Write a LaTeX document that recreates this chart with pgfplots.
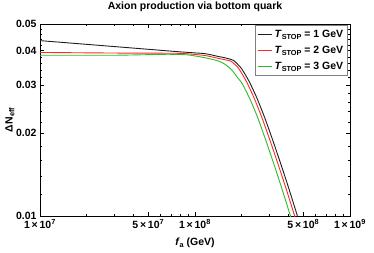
\documentclass[border=0pt]{standalone}
\usepackage{pgfplots}
\pgfplotsset{compat=1.18}
\usepackage{fontspec}
\setmainfont{Liberation Sans}
\definecolor{cblack}{RGB}{30,30,30}
\definecolor{cred}{RGB}{255,40,40}
\definecolor{cgreen}{RGB}{40,190,40}
\newcommand{\fs}{\bfseries\fontsize{10.5}{12.5}\selectfont}
\newcommand{\sub}[1]{\raisebox{-0.35ex}{\fontsize{7.3}{8}\selectfont #1}}
\begin{document}
\begin{tikzpicture}
\begin{axis}[
  scale only axis, width=310pt, height=192pt,
  xmode=log, ymode=log,
  xmin=1e7, xmax=1e9, ymin=0.01, ymax=0.05,
  font=\fs,
  axis line style={line width=0.9pt, black},
  tick align=inside, major tick length=4pt, minor tick length=2pt,
  every tick/.style={black, line width=0.5pt},
  xtick={1e7,5e7,1e8,5e8,1e9},
  xticklabels={1\,×\,10\textsuperscript{7},5\,×\,10\textsuperscript{7},1\,×\,10\textsuperscript{8},5\,×\,10\textsuperscript{8},1\,×\,10\textsuperscript{9}},
  minor xtick={2e7,3e7,4e7,6e7,7e7,8e7,9e7,2e8,3e8,4e8,6e8,7e8,8e8,9e8},
  ytick={0.01,0.02,0.03,0.04,0.05},
  yticklabels={0.01,0.02,0.03,0.04,0.05},
  minor ytick={0.012,0.014,0.016,0.018,0.022,0.024,0.026,0.028,0.032,0.034,0.036,0.038,0.042,0.044,0.046,0.048},
  title={Axion production via bottom quark},
  title style={at={(axis description cs:0.5,1.059)}, anchor=center, font=\fs},
  xlabel={\textit{f}\sub{a} (GeV)},
  xlabel style={at={(axis description cs:0.5,-0.141)}, anchor=center},
  ylabel={ΔN\sub{eff}},
  ylabel style={at={(axis description cs:-0.097,0.5)}, anchor=center},
  legend style={at={(axis description cs:0.992,0.995)}, anchor=north east, draw=gray, line width=0.6pt,
    font=\fs, row sep=3.5pt, inner xsep=2pt, inner ysep=2.5pt},
  legend cell align=left,
  legend image code/.code={\draw[#1, line width=0.9pt] (0pt,0pt) -- (14pt,0pt);},
  clip=true,
]
\addplot[cblack, line width=0.9pt, smooth, tension=0.3] coordinates {
(1e7,0.0435) (3.16e7,0.0413) (8.0e7,0.0396) (1.16e8,0.0390) (1.41e8,0.0381)
(1.585e8,0.0376) (1.778e8,0.0368) (1.995e8,0.03443) (2.239e8,0.03085) (2.512e8,0.02683)
(2.818e8,0.02278) (3.162e8,0.01899) (3.548e8,0.01568) (3.981e8,0.01287) (4.467e8,0.01046) (4.786e8,0.00921)};
\addlegendentry{\textit{T}\sub{STOP} = 1 GeV}
\addplot[cred, line width=0.9pt, smooth, tension=0.3] coordinates {
(1e7,0.0394) (3.16e7,0.0392) (8.0e7,0.0391) (1.16e8,0.0384) (1.41e8,0.0375)
(1.706e8,0.0366) (1.914e8,0.03443) (2.148e8,0.03085) (2.410e8,0.02683) (2.704e8,0.02278)
(3.034e8,0.01899) (3.404e8,0.01568) (3.819e8,0.01287) (4.286e8,0.01046) (4.592e8,0.00921)};
\addlegendentry{\textit{T}\sub{STOP} = 2 GeV}
\addplot[cgreen, line width=0.9pt, smooth, tension=0.3] coordinates {
(1e7,0.0385) (3.16e7,0.0385) (6.6e7,0.0388) (9.0e7,0.0386) (1.16e8,0.0377)
(1.41e8,0.0367) (1.56e8,0.0357) (1.73e8,0.0340) (1.86e8,0.0322) (2.019e8,0.0303)
(2.265e8,0.0266) (2.541e8,0.02278) (2.851e8,0.01899) (3.199e8,0.01568) (3.589e8,0.01287)
(4.027e8,0.01046) (4.315e8,0.00921)};
\addlegendentry{\textit{T}\sub{STOP} = 3 GeV}
\end{axis}
\pgfresetboundingbox
\path ([shift={(-40pt,-36pt)}]current axis.south west) rectangle ([shift={(24pt,24pt)}]current axis.north east);
\end{tikzpicture}
\end{document}
